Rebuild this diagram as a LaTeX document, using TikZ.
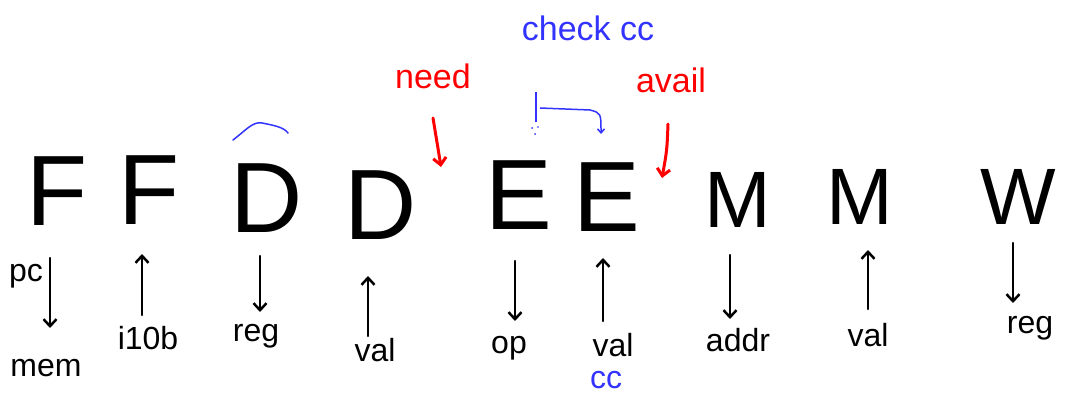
\documentclass[tikz,border=0pt]{standalone}
\usepackage{fontspec}
\setmainfont{Liberation Sans}
\usetikzlibrary{arrows.meta,positioning}
\definecolor{penred}{RGB}{255,0,0}
\definecolor{penblue}{RGB}{51,51,255}
\tikzset{>={Straight Barb[length=7pt,width=13pt]}}

\begin{document}
\begin{tikzpicture}[x=1pt,y=-1pt,
    stage/.style={font=\fontsize{100}{100}\selectfont, inner sep=0pt},
    smallstage/.style={font=\fontsize{80}{80}\selectfont, inner sep=0pt},
    lbl/.style={font=\fontsize{32}{32}\selectfont, inner sep=1pt},
    sig/.style={line width=2.5pt, ->, line cap=round},
    note/.style={font=\fontsize{34}{34}\selectfont, inner sep=1pt}]
    \useasboundingbox (0,0) rectangle (1068,401);

    % pipeline stages
    \node [stage] (f1) at (57,191) {F};
    \node [stage] (f2) at (149,190) {F};
    \node [stage] (d1) at (267,198) {D};
    \node [stage] (d2) at (381,205) {D};
    \node [stage] (e1) at (519,195) {E};
    \node [stage] (e2) at (607,197) {E};
    \node [smallstage] (m1) at (738,200) {M};
    \node [smallstage] (m2) at (860,197) {M};
    \node [smallstage] (w) at (1018,197) {W};

    % signals
    \node [lbl] (pc) at (26,276) {pc};
    \node [lbl] (mem) at (46,368) {mem};
    \node [lbl] (ilob) at (148,338) {i10b};
    \node [lbl] (reg1) at (256,336) {reg};
    \node [lbl] (val1) at (375,350) {val};
    \node [lbl] (op) at (509,348) {op};
    \node [lbl] (val2) at (613,345) {val};
    \node [lbl, text=penblue] (cc) at (606,380) {cc};
    \node [lbl] (addr) at (738,340) {addr};
    \node [lbl] (val3) at (868,335) {val};
    \node [lbl] (reg2) at (1030,328) {reg};

    \coordinate (pcA) at (50,258);   \coordinate (pcB) at (50,328);
    \coordinate (ilobA) at (142,315); \coordinate (ilobB) at (142,254);
    \coordinate (reg1A) at (260,256); \coordinate (reg1B) at (260,312);
    \coordinate (val1A) at (368,336); \coordinate (val1B) at (368,276);
    \coordinate (opA) at (515,261);  \coordinate (opB) at (515,321);
    \coordinate (val2A) at (603,321); \coordinate (val2B) at (603,258);
    \coordinate (addrA) at (730,255); \coordinate (addrB) at (730,319);
    \coordinate (val3A) at (868,309); \coordinate (val3B) at (868,250);
    \coordinate (reg2A) at (1013,243); \coordinate (reg2B) at (1013,303);

    \draw [sig] (pcA) -- (pcB);
    \draw [sig] (ilobA) -- (ilobB);
    \draw [sig] (reg1A) -- (reg1B);
    \draw [sig] (val1A) -- (val1B);
    \draw [sig] (opA) -- (opB);
    \draw [sig] (val2A) -- (val2B);
    \draw [sig] (addrA) -- (addrB);
    \draw [sig] (val3A) -- (val3B);
    \draw [sig] (reg2A) -- (reg2B);

    % notes
    \draw [penblue, line width=1.5pt, line cap=round] (233,140) .. controls (245,131) and (253,121) .. (262,123) .. controls (272,125) and (284,127) .. (288,133);

    \node [note, text=penred] (need) at (433,76) {need};
    \node [note, text=penred] (avail) at (671,80) {avail};
    \node [note, text=penblue] (check) at (588,28) {check cc};

    \coordinate (needA) at (433,118); \coordinate (needB) at (441,167);
    \coordinate (availA) at (668,124); \coordinate (availB) at (662,178);
    \draw [penred, sig, line width=3pt] (needA) .. controls (437,140) .. (needB);
    \draw [penred, sig, line width=3pt] (availA) .. controls (667,150) .. (availB);

    \coordinate (ccA) at (536,92); \coordinate (ccB) at (536,122);
    \coordinate (ccC) at (540,108); \coordinate (ccD) at (601,134);
    \draw [penblue, line width=1.5pt] (ccA) -- (ccB);
    \fill [penblue] (532,128) circle (1pt) (538,127) circle (0.8pt) (535,134) circle (1pt);
    \draw [penblue, line width=1.5pt, -{Straight Barb[length=4pt,width=7pt]}] (ccC) -- (590,110) .. controls (601,113) .. (ccD);
  \end{tikzpicture}
\end{document}
